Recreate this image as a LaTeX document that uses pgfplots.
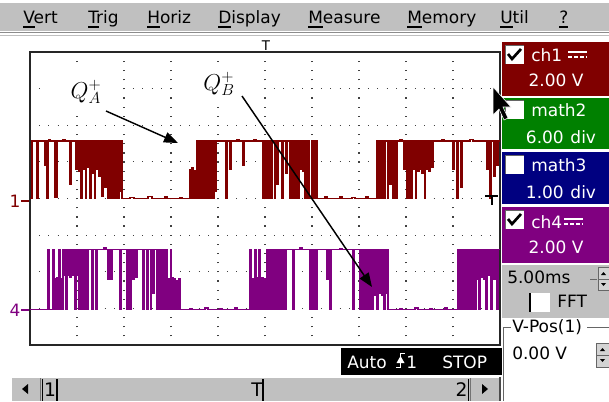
\documentclass[border=0pt]{standalone}
\usepackage{pgfplots}
\usepackage{pgfplotstable}
\pgfplotsset{compat=1.18}
\usepackage{fontspec}
\setmainfont{DejaVu Sans}
\usetikzlibrary{arrows.meta}

\definecolor{chred}{HTML}{800000}
\definecolor{chgreen}{HTML}{008000}
\definecolor{chblue}{HTML}{000080}
\definecolor{chpurple}{HTML}{800080}
\definecolor{guigray}{HTML}{C0C0C0}

\newcommand\gui{\fontsize{12.75pt}{15pt}\selectfont}
\newcommand\guibig{\fontsize{14pt}{16pt}\selectfont}
\newcommand\ul[1]{\sbox0{#1}\rlap{\rule[-3.4pt]{\wd0}{0.8pt}}#1}

% screen coordinates: 1 unit = one display pixel, y running downwards
\tikzset{screen/.style={x=0.75pt, y=-0.75pt, shift={(0pt,300.75pt)}}}

% ch1 (Q_A+): screen column t (0..470), level in divisions
\pgfplotstableread[row sep=\\]{
t v\\
0 4.00\\ 2 5.57\\ 6.5 4.00\\ 8 5.57\\ 15 4.90\\ 16 5.57\\ 17 4.00\\ 18.5 5.60\\ 20 5.57\\
25 4.02\\ 27 5.57\\ 33 5.61\\ 35 5.57\\ 40 4.40\\ 41 5.57\\
46 4.80\\ 47.5 5.57\\ 48.5 4.75\\ 50 5.57\\ 51 4.00\\ 52 5.57\\ 53 4.80\\ 54.5 5.57\\
55.5 4.00\\ 56.5 5.57\\ 57.5 4.85\\ 59 5.57\\ 60 4.00\\ 61 5.57\\ 62 4.70\\ 63.5 5.57\\
64.5 4.00\\ 65.5 5.57\\ 66.5 4.80\\ 68 5.57\\ 69 4.60\\ 70 5.57\\
72 4.05\\ 73 5.57\\ 75 4.30\\ 76.5 5.57\\ 78 4.00\\ 79 5.57\\
80 4.00\\ 81 5.57\\ 82 4.00\\ 83 5.57\\ 84 4.00\\ 85 5.57\\ 86 4.00\\ 87 5.57\\
88 4.00\\ 89 5.57\\ 90 4.20\\ 91 5.57\\ 92 4.00\\
100 4.03\\ 104 4.00\\ 118 4.06\\ 122 4.00\\ 135 4.04\\ 137 4.00\\ 150 4.03\\ 152 4.00\\
160 4.80\\ 161 4.00\\ 162 4.85\\ 163 4.00\\ 164.5 4.75\\ 165.5 4.00\\
167 5.57\\ 168 4.00\\ 169 5.57\\ 170 4.00\\ 171 5.57\\ 172 4.00\\ 173 5.57\\ 174 4.00\\
175.5 5.57\\ 176.5 4.00\\ 177.5 5.57\\ 178.5 4.00\\ 179.5 5.57\\ 180.5 4.00\\
182 5.57\\ 183 4.00\\ 184 5.57\\ 185 4.20\\ 186 5.57\\
196 4.00\\ 197.5 5.57\\ 200 4.80\\ 201 5.57\\ 207 5.62\\ 209 5.57\\ 213 4.90\\ 214 5.57\\
224 5.61\\ 226 5.57\\
233 4.00\\ 234 5.57\\ 235.5 4.00\\ 236.5 5.57\\ 238 4.00\\ 239 5.57\\ 241 4.00\\ 242 5.57\\
244.5 4.00\\ 245.5 5.57\\ 247 4.40\\ 248 5.57\\ 252 4.00\\ 253 5.57\\ 256 4.70\\ 257 5.57\\
260 4.00\\ 261 5.57\\ 262 4.00\\ 263 5.57\\ 264 4.00\\ 265 5.57\\ 266 4.00\\ 267 5.57\\
268 4.00\\ 269 5.57\\ 270 4.80\\ 271.5 5.57\\ 272.5 4.75\\ 274 5.57\\
275 4.00\\ 276 5.57\\ 277 4.00\\ 278 5.57\\ 279 4.00\\ 281.5 5.57\\ 282.5 4.00\\
283.5 5.57\\ 284.5 4.00\\ 286 5.57\\ 287 4.00\\
295 4.04\\ 297 4.00\\ 310 4.05\\ 312 4.00\\ 322 4.03\\ 325 4.00\\ 336 4.04\\ 338 4.00\\
347 5.57\\ 348 4.00\\ 349.5 5.57\\ 351 4.00\\ 352 5.57\\ 354 4.00\\ 355 5.57\\
357.5 4.00\\ 358.5 5.57\\ 360 4.40\\ 361 5.57\\ 363 4.00\\ 364 5.57\\ 366 4.00\\ 367 5.57\\
370 5.62\\ 372 5.57\\ 374 4.80\\ 375 5.57\\
377 4.00\\ 378 5.57\\ 379 4.00\\ 380 5.57\\ 381 4.00\\ 382 5.57\\
383 4.80\\ 384.5 5.57\\ 385.5 4.00\\ 386.5 5.57\\ 387.5 4.75\\ 389 5.57\\ 390 4.80\\
391 5.57\\ 392 4.70\\ 393.5 5.57\\ 394.5 4.00\\ 395.5 5.57\\ 396.5 4.80\\ 398 5.57\\
399 4.75\\ 400.5 5.57\\ 401.5 4.85\\ 403 5.57\\
412 5.62\\ 414 5.57\\ 423 4.80\\ 424 5.57\\ 427 4.00\\ 428 5.57\\ 431 4.30\\ 432 5.57\\
440 5.62\\ 443 5.57\\ 457 4.80\\ 458 5.57\\ 460 4.00\\ 461 5.57\\ 464 4.60\\ 465 5.57\\
467 4.90\\ 468 5.57\\ 472 5.57\\
}\chonetrace

% ch4 (Q_B+)
\pgfplotstableread[row sep=\\]{
t v\\
0 0.97\\ 18 2.60\\ 19.5 0.97\\ 23 2.60\\ 24 0.97\\ 25 1.80\\ 26 0.97\\ 27 1.85\\ 28 0.97\\
29 2.60\\ 30 0.97\\ 31 1.80\\ 32 0.97\\ 33 2.60\\ 34 1.90\\ 35 2.60\\ 36 0.97\\ 37 2.60\\
38 1.90\\ 39 2.60\\ 40 1.85\\ 41.5 2.60\\ 42.5 1.90\\ 44 2.60\\ 45 0.97\\ 46 2.60\\ 47 1.90\\
48 2.60\\ 49 0.97\\ 50 2.60\\ 51 0.97\\ 52 2.60\\ 53.5 0.97\\ 54.5 2.60\\ 55.5 0.97\\
56.5 2.60\\ 57.5 0.97\\ 58.5 2.60\\ 62 0.97\\ 63 2.60\\ 66 0.97\\ 67 2.60\\
74 2.65\\ 76 2.60\\ 78 1.80\\ 79.5 2.60\\ 81 1.80\\ 82 2.60\\ 90 0.97\\ 91 2.60\\
97 0.97\\ 98.5 2.60\\ 100 0.97\\ 101 2.60\\ 103 1.80\\ 104 2.60\\ 106 1.85\\ 107 2.60\\
113 0.97\\ 114 2.60\\ 117 0.97\\ 118 2.60\\ 120.5 0.97\\ 121.5 2.60\\ 123 1.40\\ 124 2.60\\
127 0.97\\ 128 2.60\\ 129 0.97\\ 130 2.60\\ 131 0.97\\ 132 2.60\\ 133 0.97\\ 134.5 2.60\\
135.5 0.97\\ 136.5 2.60\\ 137.5 0.97\\ 138.5 1.80\\ 139.5 0.97\\ 140.5 2.60\\ 141.5 0.97\\
142.5 1.85\\ 143.5 0.97\\ 144.5 1.80\\ 145.5 0.97\\ 147 1.75\\ 148 0.97\\ 149 1.80\\ 150 0.97\\
160 1.00\\ 162 0.97\\ 175 1.01\\ 178 0.97\\ 190 1.00\\ 192 0.97\\ 205 1.01\\ 207 0.97\\
220 2.60\\ 221 0.97\\ 223 1.80\\ 224 0.97\\ 225 2.60\\ 226 0.97\\ 227 1.85\\ 228 0.97\\
229 2.60\\ 230 1.80\\ 231 0.97\\ 232 1.85\\ 233 0.97\\ 234 1.80\\ 235 0.97\\ 236 1.80\\
237 2.60\\ 238 0.97\\ 239 2.60\\ 240 0.97\\ 241 2.60\\ 242 0.97\\ 243.5 2.60\\ 244.5 0.97\\
245.5 2.60\\ 246.5 0.97\\ 247.5 2.60\\ 248.5 0.97\\ 250 2.60\\ 251 0.97\\ 252 2.60\\
253 0.97\\ 254 2.60\\ 255 0.97\\ 256 2.60\\
263 0.97\\ 264 2.60\\ 270 2.65\\ 272 2.60\\ 280 0.97\\ 281 2.60\\ 283 0.97\\ 284 2.60\\
286 0.97\\ 287 2.60\\ 297 1.80\\ 298 2.60\\ 300 0.97\\ 301 2.60\\ 310 2.64\\ 312 2.60\\
323 0.97\\ 324 2.60\\
330 0.97\\ 331 2.60\\ 332 0.97\\ 333 2.60\\ 334 0.97\\ 335 2.60\\ 336 0.97\\ 337 2.60\\
338 0.97\\ 339 2.60\\ 340 0.97\\ 341 2.60\\ 342 0.97\\ 343 1.40\\ 344 2.60\\ 345 1.35\\
346 2.60\\ 347 0.97\\ 348 2.60\\ 349 1.40\\ 350.5 2.60\\ 351.5 1.35\\ 353 2.60\\ 354 0.97\\
355 2.60\\ 356 1.40\\ 357 2.60\\ 358 0.97\\
370 1.00\\ 372 0.97\\ 385 1.01\\ 388 0.97\\ 400 1.00\\ 402 0.97\\ 415 1.01\\ 417 0.97\\
428 2.60\\ 429 0.97\\ 431 2.60\\ 432 0.97\\ 433 2.60\\ 434 0.97\\ 435 2.60\\ 436 0.97\\
437.5 2.60\\ 438.5 0.97\\ 439.5 2.60\\ 440.5 0.97\\ 441.5 2.60\\ 442.5 0.97\\ 444 2.60\\
445 0.97\\ 446 2.60\\ 447 1.80\\ 448 2.60\\ 449 0.97\\ 450 2.60\\ 451 1.85\\ 452.5 2.60\\
453.5 1.80\\ 455 2.60\\ 456 0.97\\ 457 2.60\\ 458 1.90\\ 459.5 2.60\\ 461 0.97\\ 462 2.60\\
464 1.80\\ 465 2.60\\ 467 0.97\\ 468 2.60\\ 472 2.60\\
}\chfourtrace

\begin{document}
\begin{tikzpicture}
\path[use as bounding box] (0pt,0pt) rectangle (456.75pt,300.75pt);
\fill[white] (0pt,0pt) rectangle (456.75pt,300.75pt);

\begin{scope}[screen]
% ---- menu bar
\fill[guigray] (0,3) rectangle (609,31);
\draw[black!45] (0,32.5) -- (609,32.5);
\draw[black!25] (0,35.5) -- (609,35.5);
\begin{scope}[every node/.style={anchor=base west, inner sep=0, font=\gui}]
\node at (23,23) {\ul{V}ert};
\node at (88,23) {\ul{T}rig};
\node at (147,23) {\ul{H}oriz};
\node at (218,23) {\ul{D}isplay};
\node at (308,23) {\ul{M}easure};
\node at (407,23) {\ul{M}emory};
\node at (500,23) {\ul{U}til};
\node at (559,23) {\ul{?}};
\end{scope}
% trigger position mark
\node[inner sep=0, font=\fontsize{10}{12}\selectfont] at (266,45.5) {T};
\end{scope}

% ---- traces: screen 10 x 8 divisions
\begin{axis}[
  at={(22.5pt,42pt)}, anchor=south west,
  width=352.5pt, height=219.75pt, scale only axis,
  xmin=0, xmax=470, ymin=0, ymax=8,
  xtick={47,94,141,188,235,282,329,376,423},
  ytick={1,2,3,4,5,6,7},
  xticklabels={}, yticklabels={},
  major tick length=0pt,
  grid=major,
  x grid style={line width=0.9pt, black!75, dash pattern=on 0.9pt off 5.96pt, dash phase=0.45pt},
  y grid style={line width=0.9pt, black!75, dash pattern=on 0.9pt off 6.15pt, dash phase=0.45pt},
  axis line style={line width=1.2pt, black!85},
]
\addplot[chred, line width=1.0pt, const plot, mark=none] table[x=t, y=v] {\chonetrace};
\addplot[chpurple, line width=1.0pt, const plot, mark=none] table[x=t, y=v] {\chfourtrace};
\end{axis}

\begin{scope}[screen]
% trigger level mark
\draw[black, line width=0.9pt] (485,196) -- (498,196) (492,196) -- (492,205);

% channel reference marks
\node[chred, inner sep=0, font=\gui] at (15,201) {1};
\draw[chred, line width=1.1pt] (21,201) -- (29,201);
\node[chpurple, inner sep=0, font=\gui] at (15,310) {4};
\draw[chpurple, line width=1.1pt] (21,310) -- (29,310);

% ---- annotations
\fill[white] (41,70) rectangle (122,112);
\fill[white] (173,62) rectangle (256,104);
\node[inner sep=0] at (86,92) {\fontsize{17.28}{20}\selectfont $Q_A^{+}$};
\node[inner sep=0] at (219,84) {\fontsize{17.28}{20}\selectfont $Q_B^{+}$};
\draw[line width=1.1pt, -{Triangle[length=10.5pt, width=8pt]}] (106,111) -- (178,143);
\draw[line width=1.1pt, -{Triangle[length=10.5pt, width=8pt]}] (242,96) -- (372,287);

% ---- channel panel
\fill[chred] (502,42) rectangle (609,96);
\fill[chgreen] (502,98) rectangle (609,149);
\fill[chblue] (502,152) rectangle (609,204);
\fill[chpurple] (502,207) rectangle (609,263);
\foreach \yy in {45,100,155,210}{
  \fill[white] (505,\yy) rectangle (524,\yy+19);
  \draw[black!60, line width=1.2pt] (505.5,\yy+19) -- (505.5,\yy+0.5) -- (524,\yy+0.5);
}
\draw[black, line width=2pt] (508,54) -- (512,59) -- (521,49);
\draw[black, line width=2pt] (508,219) -- (512,224) -- (521,214);
\begin{scope}[every node/.style={inner sep=0, font=\gui, white}]
\node[anchor=west] at (531,55) {ch1};
\node at (556,80) {2.00\hspace{4pt}V};
\node[anchor=west] at (531,110) {math2};
\node at (561,137) {6.00\hspace{5pt}div};
\node[anchor=west] at (531,165) {math3};
\node at (561,192) {1.00\hspace{5pt}div};
\node[anchor=west] at (531,222) {ch4};
\node at (556,247) {2.00\hspace{4pt}V};
\end{scope}
% DC coupling symbols
\draw[white, line width=1.2pt] (568,52) -- (587,52) (564,219) -- (583,219);
\draw[white, line width=1.2pt, dash pattern=on 3pt off 1.6pt] (568,57) -- (587,57) (564,224) -- (583,224);

% mouse pointer
\filldraw[black, draw=white, line width=0.4pt] (493,87) -- (493,115) -- (499,109) -- (504,120) -- (508,118) -- (503,107) -- (511,107) -- cycle;

% timebase / FFT
\fill[guigray] (502,265) rectangle (609,318);
\node[anchor=west, inner sep=0, font=\gui] at (507,277) {5.00ms};
\draw[black!60] (590,279) -- (597,279);
\fill[guigray!70] (598,267) rectangle (609,290);
\draw[black!60] (598,267) rectangle (609,279) (598,279) rectangle (609,290);
\fill[black] (601,275) -- (606,275) -- (603.5,272) -- cycle;
\fill[black] (601,283) -- (606,283) -- (603.5,286) -- cycle;
\fill[white] (531,293) rectangle (550,312);
\draw[black, line width=1.8pt] (530,293) -- (530,312);
\node[anchor=west, inner sep=0, font=\gui] at (557,301) {FFT};

% vertical position group
\draw[black!60] (503.5,401) -- (503.5,327.5) -- (511,327.5) (587,327.5) -- (609,327.5);
\node[anchor=west, inner sep=0, font=\gui] at (512,327) {V-Pos(1)};
\node[anchor=west, inner sep=0, font=\gui] at (512,353) {0.00\hspace{4pt}V};
\fill[guigray!70] (596,343) rectangle (609,367);
\draw[black!60] (596,343) rectangle (609,355) (596,355) rectangle (609,367);
\fill[black] (600,351) -- (605,351) -- (602.5,348) -- cycle;
\fill[black] (600,359) -- (605,359) -- (602.5,362) -- cycle;

% ---- status box
\fill[black] (341,348) rectangle (502,375);
\begin{scope}[every node/.style={anchor=west, inner sep=0, font=\gui, white}]
\node at (347,362) {Auto};
\node at (406,362) {1};
\node at (442,362) {STOP};
\end{scope}
\draw[white, line width=1pt] (396,367.5) -- (400.5,367.5) -- (400.5,353.5) -- (405,353.5);
\fill[white] (396.5,363) -- (404.5,363) -- (400.5,356) -- cycle;

% ---- scroll bar
\fill[guigray] (12,377) rectangle (500,401);
\draw[white] (12,377.5) -- (500,377.5);
\draw[black!55] (40,378) -- (40,401) (470.5,378) -- (470.5,401);
\fill[black] (22,389) -- (28,384) -- (28,394) -- cycle;
\fill[black] (488,389) -- (482,384) -- (482,394) -- cycle;
\draw[black, line width=1.4pt] (42.5,379) -- (42.5,401) (57,379) -- (57,401);
\draw[black, line width=1.4pt] (263,379) -- (263,401) (468.5,379) -- (468.5,401);
\begin{scope}[every node/.style={inner sep=0, font=\guibig}]
\node at (50,390) {1};
\node at (257,390) {T};
\node at (461.5,390) {2};
\end{scope}
\draw[black!70, line width=1pt] (500,377) -- (500,401);
\end{scope}
\end{tikzpicture}
\end{document}
